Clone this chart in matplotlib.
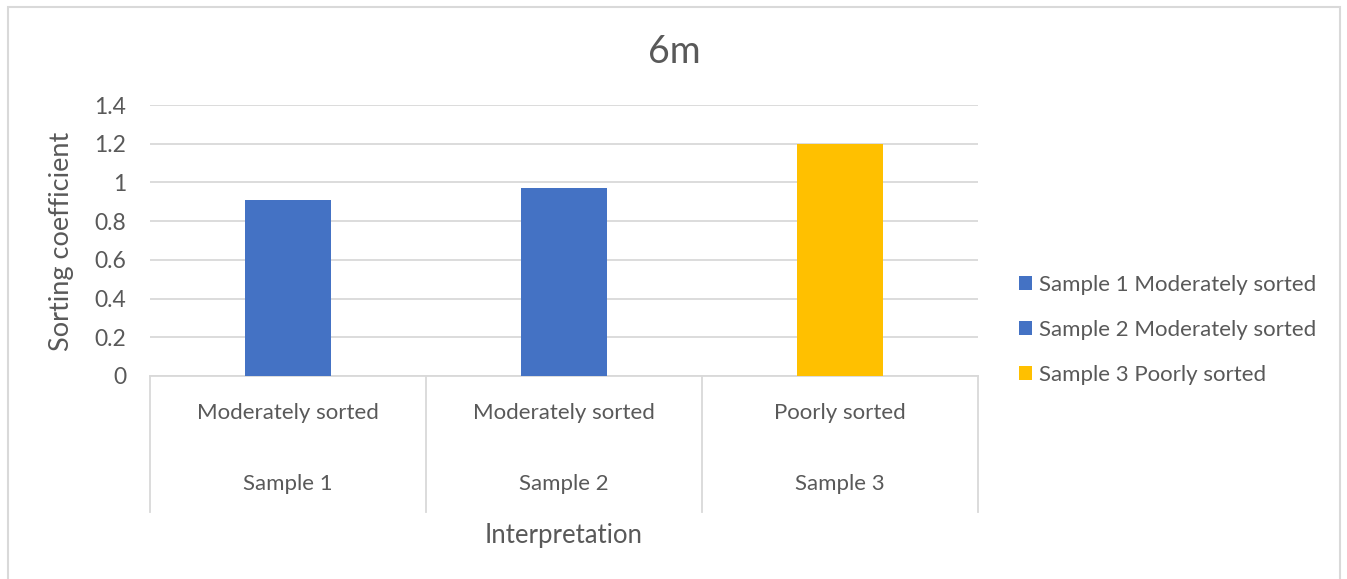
import matplotlib
matplotlib.use("Agg")
import matplotlib.pyplot as plt
from matplotlib.patches import Patch, Rectangle
import matplotlib.transforms as mtransforms

plt.rcParams['font.family'] = ['Lato', 'DejaVu Sans']

categories = ["Sample 1", "Sample 2", "Sample 3"]
interpretations = ["Moderately sorted", "Moderately sorted", "Poorly sorted"]
values = [0.91, 0.97, 1.20]
colors = ["#4472C4", "#4472C4", "#FFC000"]
legend_labels = ["Sample 1 Moderately sorted", "Sample 2 Moderately sorted", "Sample 3 Poorly sorted"]
yticks = [0, 0.2, 0.4, 0.6, 0.8, 1.0, 1.2, 1.4]
ytick_labels = ["0", "0.2", "0.4", "0.6", "0.8", "1", "1.2", "1.4"]

W, H = 1347, 579
fig = plt.figure(figsize=(W / 100, H / 100), dpi=100)
txt = "#595959"
grid = "#D9D9D9"

# outer frame
fig.patches.append(Rectangle((8 / W, -0.1), (1340 - 8) / W, 1.1 - 7 / H,
                             transform=fig.transFigure, fill=False,
                             edgecolor=grid, linewidth=1.5))

ax = fig.add_axes([150 / W, 1 - 376 / H, (978 - 150) / W, (376 - 105) / H])
x = list(range(len(categories)))
ax.bar(x, values, width=0.31, color=colors, zorder=3)
ax.set_xlim(-0.5, len(categories) - 0.5)
ax.set_ylim(0, 1.4)
ax.set_yticks(yticks)
ax.set_yticklabels(ytick_labels, fontsize=16.5, color=txt)
ax.tick_params(axis='y', length=0, pad=17)
ax.set_xticks([])
for s in ["top", "right", "left"]:
    ax.spines[s].set_visible(False)
ax.spines["bottom"].set_color(grid)
ax.spines["bottom"].set_linewidth(1.3)
ax.yaxis.grid(True, color=grid, linewidth=1.3, zorder=0)
ax.set_axisbelow(True)

trans = mtransforms.blended_transform_factory(ax.transData, ax.transAxes)
for b in [-0.5, 0.5, 1.5, 2.5]:
    ax.plot([b, b], [0, -(512 - 376) / 271], transform=trans, color=grid,
            linewidth=1.3, clip_on=False)
for i in x:
    ax.text(i, -(413 - 376) / 271, interpretations[i], transform=trans,
            ha='center', va='center', fontsize=16, color=txt)
    ax.text(i, -(484 - 376) / 271, categories[i], transform=trans,
            ha='center', va='center', fontsize=16, color=txt)

fig.text((150 + 978) / 2 / W, 1 - 535 / H, "Interpretation", ha='center', va='center',
         fontsize=18.5, color=txt)
fig.text(62 / W, 1 - 241 / H, "Sorting coefficient", rotation=90, ha='center', va='center',
         fontsize=19.5, color=txt)
fig.text(674 / W, 1 - 52 / H, "6m", ha='center', va='center',
         fontsize=27, color=txt)

handles = [Patch(facecolor=c) for c in colors]
leg = fig.legend(handles, legend_labels, loc='center left',
                 bbox_to_anchor=(1003 / W, 1 - 330 / H), frameon=False,
                 fontsize=16, labelcolor=txt, handlelength=0.6, handleheight=0.6,
                 handletextpad=0.3, labelspacing=1.13, borderpad=0.2)

fig.savefig("out.png", dpi=100)
